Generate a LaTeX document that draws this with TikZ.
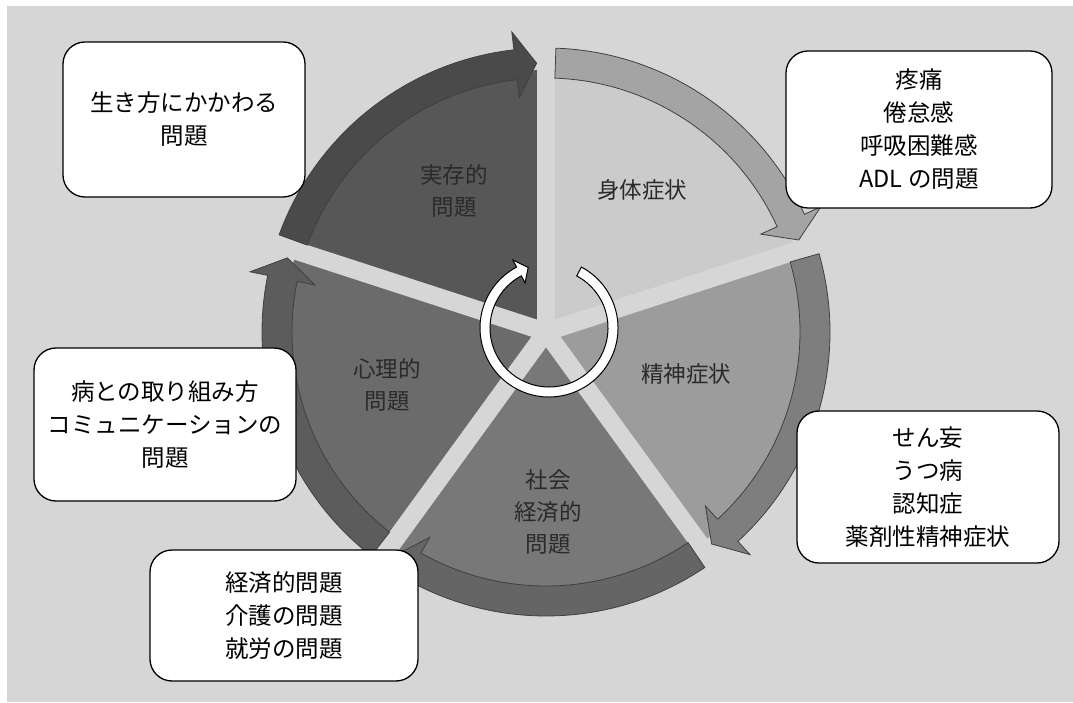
\documentclass[tikz,border=0pt]{standalone}
\usepackage{fontspec}
\newfontfamily\cjk{Noto Sans CJK JP}
\definecolor{bg}{HTML}{D6D6D6}
\definecolor{txt}{HTML}{2A2A2A}
\definecolor{sJitsu}{HTML}{575757}
\definecolor{sShin}{HTML}{CBCBCB}
\definecolor{sSei}{HTML}{9C9C9C}
\definecolor{sSha}{HTML}{787878}
\definecolor{sShinri}{HTML}{6B6B6B}
\definecolor{aJitsu}{HTML}{4A4A4A}
\definecolor{aShin}{HTML}{A4A4A4}
\definecolor{aSei}{HTML}{7E7E7E}
\definecolor{aSha}{HTML}{656565}
\definecolor{aShinri}{HTML}{5C5C5C}
\newcommand\pieSector[2]{%
  \fill[#2] (0,0) -- ({#1}:262pt) arc[start angle={#1}, end angle={#1+72}, radius=262pt] -- cycle;}
\newcommand\cycArrow[2]{%
  \filldraw[arrowshape, fill=#2] ({#1+70}:284pt)
    arc[start angle={#1+70}, end angle={#1+6.5}, radius=284pt]
    -- ({#1+6.5}:302pt) -- ({#1+2}:269pt) -- ({#1+6.5}:236pt) -- ({#1+6.5}:254pt)
    arc[start angle={#1+6.5}, end angle={#1+70}, radius=254pt] -- cycle;}
\begin{document}
\begin{tikzpicture}[x=1pt,y=1pt,
  box/.style={draw=black, line width=1.3pt, fill=white, rounded corners=22pt,
    align=center, inner sep=0pt, text=black, font=\cjk\fontsize{23.5}{33}\selectfont},
  seclabel/.style={align=center, text=txt, font=\cjk\fontsize{22.5}{32}\selectfont},
  arrowshape/.style={draw=black!75, line width=0.8pt, line join=miter},
  gapline/.style={draw=bg, line width=18pt, line cap=round}]
\useasboundingbox (0,0) rectangle (1073,702);
\fill[white] (0,0) rectangle (1073,702);
\fill[bg] (7,0) rectangle (1073,696);
\coordinate (C) at (546,370);
\coordinate (R) at (549,374);
\begin{scope}[shift={(C)}]
  \pieSector{90}{sJitsu}
  \pieSector{18}{sShin}
  \pieSector{-54}{sSei}
  \pieSector{-126}{sSha}
  \pieSector{162}{sShinri}
  \foreach \a in {90,18,-54,-126,162} {\draw[gapline] (0,0) -- (\a:300pt);}
  \cycArrow{90}{aJitsu}
  \cycArrow{18}{aShin}
  \cycArrow{-54}{aSei}
  \cycArrow{-126}{aSha}
  \cycArrow{162}{aShinri}
\end{scope}
\begin{scope}[shift={(R)}]
  \filldraw[fill=white, draw=black, line width=1pt, line join=miter]
    (62:69pt) arc[start angle=62, end angle=-242, radius=69pt]
    -- (-242:77pt) -- (-251:64pt) -- (-242:51pt) -- (-242:59pt)
    arc[start angle=-242, end angle=62, radius=59pt] -- cycle;
\end{scope}
\node[seclabel] (l1) at (454,511) {実存的\\問題};
\node[seclabel] (l2) at (642,512) {身体症状};
\node[seclabel] (l3) at (686,328) {精神症状};
\node[seclabel] (l4) at (548,190.5) {社会\\経済的\\問題};
\node[seclabel] (l5) at (387,317.5) {心理的\\問題};
\node[box, minimum width=242pt, minimum height=155pt] (b1) at (184,582.5) {生き方にかかわる\\問題};
\node[box, minimum width=266pt, minimum height=157pt] (b2) at (919,572.5) {疼痛\\倦怠感\\呼吸困難感\\ADL の問題};
\node[box, minimum width=262pt, minimum height=153pt] (b3) at (165,277.5) {病との取り組み方\\コミュニケーションの\\問題};
\node[box, minimum width=268pt, minimum height=131pt] (b4) at (284,86.5) {経済的問題\\介護の問題\\就労の問題};
\node[box, minimum width=262pt, minimum height=152pt] (b5) at (928,215) {せん妄\\うつ病\\認知症\\薬剤性精神症状};
\end{tikzpicture}
\end{document}
